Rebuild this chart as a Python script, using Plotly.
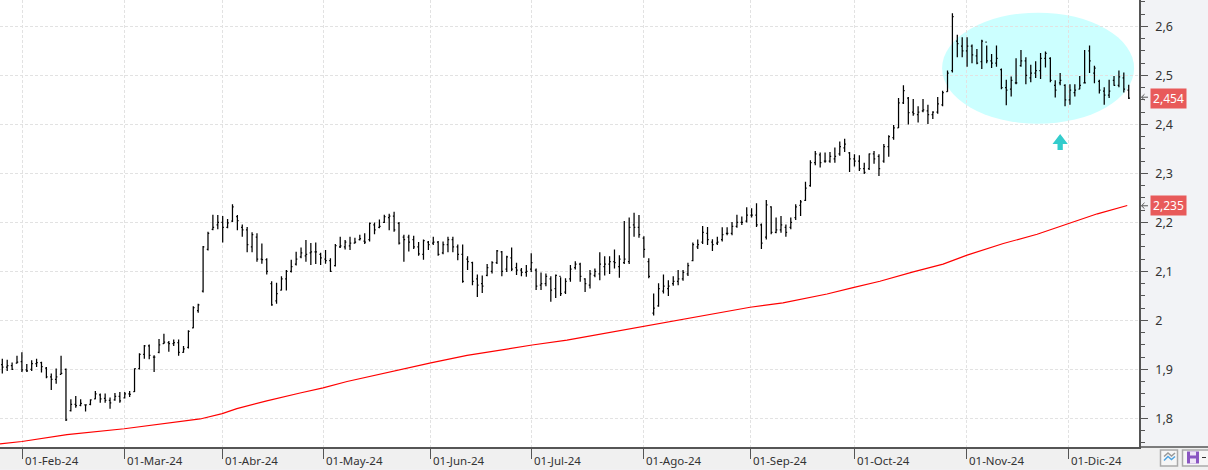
import plotly.graph_objects as go

high = [1.922,1.920,1.914,1.928,1.935,1.911,1.919,1.922,1.916,1.905,1.892,1.902,1.928,1.902,1.839,1.846,1.839,1.829,1.839,1.856,1.851,1.851,1.843,1.852,1.854,1.854,1.856,1.902,1.933,1.950,1.951,1.929,1.962,1.973,1.958,1.961,1.961,1.948,1.980,2.029,2.034,2.152,2.181,2.216,2.215,2.213,2.207,2.237,2.215,2.196,2.191,2.180,2.178,2.157,2.127,2.080,2.077,2.090,2.103,2.124,2.140,
2.149,2.164,2.158,2.159,2.138,2.144,2.127,2.156,2.171,2.164,2.171,2.169,2.175,2.178,2.200,2.200,2.206,2.216,2.218,2.222,2.201,2.175,2.175,2.173,2.160,2.165,2.162,2.171,2.162,2.161,2.171,2.171,2.155,2.155,2.131,2.120,2.094,2.092,2.115,2.121,2.144,2.142,2.132,2.149,2.118,2.107,2.113,2.137,2.106,2.098,2.096,2.090,2.094,2.088,2.086,2.113,2.121,2.118,2.086,2.103,2.106,2.139,
2.131,2.131,2.145,2.133,2.203,2.210,2.220,2.215,2.172,2.127,2.055,2.076,2.094,2.082,2.090,2.103,2.103,2.118,2.159,2.165,2.193,2.191,2.166,2.171,2.190,2.190,2.201,2.216,2.212,2.231,2.229,2.239,2.198,2.246,2.233,2.210,2.213,2.196,2.210,2.237,2.246,2.283,2.327,2.346,2.343,2.343,2.344,2.353,2.365,2.371,2.344,2.339,2.337,2.322,2.341,2.346,2.339,2.360,2.378,2.399,
2.454,2.480,2.456,
2.452,2.437,2.452,2.440,2.427,2.456,2.469,2.510,2.627,2.583,2.578,2.578,2.563,2.554,2.573,2.561,2.544,2.561,2.514,2.491,2.498,2.535,2.552,2.537,2.522,2.529,2.546,2.549,2.537,2.490,2.505,2.482,2.482,2.482,2.499,2.552,2.561,2.520,2.491,2.476,2.491,2.499,2.510,2.506,2.481]

low = [1.892,1.897,1.899,1.912,1.895,1.895,1.897,1.905,1.894,1.882,1.858,1.871,1.890,1.795,1.814,1.822,1.825,1.814,1.827,1.839,1.832,1.832,1.820,1.836,1.832,1.841,1.844,1.854,1.900,1.922,1.921,1.895,1.933,1.952,1.936,1.948,1.928,1.934,1.943,1.984,2.016,2.057,2.143,2.184,2.186,2.159,2.188,2.201,2.184,2.171,2.139,2.139,2.120,2.116,2.094,2.030,2.034,2.061,2.061,2.098,2.112,
2.127,2.120,2.113,2.115,2.113,2.116,2.099,2.110,2.148,2.145,2.144,2.157,2.163,2.156,2.161,2.176,2.188,2.199,2.184,2.181,2.155,2.120,2.141,2.146,2.132,2.124,2.144,2.154,2.132,2.135,2.139,2.139,2.123,2.077,2.103,2.072,2.048,2.056,2.090,2.096,2.115,2.090,2.099,2.101,2.093,2.090,2.089,2.099,2.062,2.062,2.070,2.038,2.046,2.050,2.054,2.079,2.104,2.079,2.058,2.065,2.088,2.082,
2.092,2.095,2.106,2.087,2.115,2.115,2.171,2.169,2.128,2.086,2.010,2.028,2.055,2.050,2.071,2.072,2.081,2.091,2.121,2.146,2.156,2.154,2.142,2.154,2.161,2.174,2.174,2.189,2.195,2.200,2.210,2.191,2.146,2.165,2.176,2.178,2.179,2.171,2.186,2.205,2.213,2.244,2.273,2.317,2.312,2.322,2.322,2.322,2.336,2.344,2.303,2.314,2.305,2.299,2.307,2.320,2.295,2.322,2.334,2.369,
2.393,2.442,2.400,
2.418,2.404,2.425,2.401,2.411,2.422,2.437,2.467,2.506,2.537,2.537,2.518,2.525,2.523,2.513,2.525,2.515,2.518,2.472,2.439,2.457,2.482,2.518,2.482,2.486,2.495,2.493,2.516,2.486,2.455,2.480,2.437,2.440,2.457,2.472,2.484,2.505,2.484,2.463,2.440,2.454,2.479,2.476,2.465,2.452]

close = [1.905,1.908,1.900,1.915,1.899,1.897,1.912,1.914,1.906,1.885,1.880,1.885,1.892,1.797,1.829,1.826,1.831,1.828,1.838,1.850,1.840,1.837,1.832,1.845,1.836,1.850,1.849,1.902,1.931,1.948,1.929,1.925,1.950,1.956,1.953,1.955,1.935,1.942,1.978,2.026,2.032,2.150,2.178,2.190,2.200,2.190,2.199,2.232,2.204,2.185,2.155,2.175,2.125,2.124,2.100,2.032,2.055,2.085,2.100,2.110,2.125,
2.138,2.135,2.140,2.140,2.128,2.122,2.100,2.153,2.152,2.160,2.158,2.160,2.167,2.160,2.198,2.185,2.192,2.212,2.213,2.185,2.158,2.165,2.160,2.150,2.136,2.163,2.155,2.160,2.135,2.155,2.165,2.150,2.135,2.080,2.120,2.080,2.072,2.070,2.108,2.118,2.142,2.100,2.130,2.105,2.103,2.098,2.100,2.118,2.070,2.075,2.090,2.062,2.092,2.055,2.080,2.105,2.115,2.090,2.075,2.095,2.100,2.115,
2.115,2.120,2.118,2.125,2.125,2.190,2.190,2.175,2.145,2.090,2.025,2.065,2.070,2.070,2.080,2.085,2.098,2.112,2.155,2.155,2.180,2.165,2.155,2.160,2.175,2.178,2.192,2.200,2.200,2.215,2.215,2.195,2.158,2.236,2.180,2.185,2.195,2.180,2.200,2.232,2.242,2.270,2.322,2.340,2.322,2.325,2.335,2.335,2.355,2.360,2.330,2.325,2.310,2.302,2.340,2.330,2.310,2.355,2.375,2.393,
2.444,2.469,2.424,
2.422,2.425,2.430,2.420,2.425,2.442,2.465,2.505,2.620,2.565,2.550,2.560,2.542,2.525,2.570,2.530,2.525,2.535,2.475,2.470,2.490,2.485,2.530,2.500,2.505,2.510,2.535,2.545,2.490,2.470,2.490,2.450,2.470,2.470,2.480,2.485,2.530,2.515,2.470,2.460,2.468,2.480,2.497,2.472,2.454]

open_ = [1.910,1.905,1.908,1.913,1.916,1.899,1.900,1.912,1.914,1.903,1.885,1.880,1.890,1.900,1.816,1.829,1.827,1.828,1.829,1.840,1.848,1.841,1.837,1.838,1.845,1.842,1.850,1.855,1.902,1.931,1.948,1.925,1.935,1.953,1.955,1.953,1.955,1.935,1.945,1.985,2.020,2.060,2.145,2.186,2.195,2.200,2.190,2.203,2.212,2.190,2.185,2.150,2.170,2.125,2.124,2.075,2.040,2.062,2.085,2.100,2.115,
2.130,2.132,2.138,2.140,2.135,2.125,2.122,2.112,2.150,2.150,2.152,2.158,2.165,2.162,2.165,2.195,2.190,2.200,2.210,2.213,2.198,2.170,2.170,2.165,2.150,2.135,2.160,2.158,2.160,2.138,2.155,2.165,2.150,2.135,2.125,2.118,2.085,2.075,2.092,2.100,2.118,2.140,2.105,2.128,2.108,2.103,2.098,2.105,2.103,2.072,2.075,2.085,2.065,2.090,2.058,2.085,2.108,2.115,2.085,2.072,2.092,2.095,
2.110,2.115,2.120,2.110,2.118,2.120,2.195,2.190,2.168,2.120,2.015,2.030,2.060,2.065,2.075,2.080,2.085,2.095,2.122,2.150,2.160,2.178,2.160,2.158,2.165,2.178,2.178,2.192,2.200,2.203,2.215,2.215,2.195,2.170,2.232,2.180,2.185,2.190,2.190,2.210,2.235,2.245,2.275,2.322,2.338,2.325,2.325,2.330,2.340,2.352,2.342,2.330,2.325,2.310,2.310,2.340,2.335,2.325,2.355,2.373,
2.393,2.444,2.454,
2.425,2.420,2.428,2.428,2.420,2.425,2.440,2.467,2.510,2.570,2.560,2.550,2.560,2.540,2.528,2.568,2.530,2.525,2.512,2.475,2.472,2.485,2.520,2.530,2.495,2.505,2.510,2.535,2.535,2.480,2.485,2.480,2.450,2.465,2.472,2.485,2.550,2.505,2.488,2.468,2.460,2.490,2.480,2.495,2.470]

assert len(high) == len(low) == len(close) == len(open_), (len(high), len(low), len(close), len(open_))
bar_index = list(range(len(high)))

ma_index = [-0.47,4,13.2,24.9,40.4,44.9,47.9,54,60.8,65.5,70.4,76.5,82.6,87.5,94.9,101.6,108.2,115.3,122.1,130.8,132.3,139.4,149.2,152.7,159.4,168.4,173.7,179.2,186,192.1,197,204.4,211.3,217.6,223.6,229.7]
ma_values = [1.748,1.753,1.767,1.779,1.799,1.810,1.820,1.836,1.852,1.8626,1.8755,1.889,1.9034,1.9136,1.9286,1.9395,1.950,1.960,1.972,1.987,1.990,2.002,2.020,2.027,2.036,2.054,2.067,2.080,2.0993,2.115,2.1333,2.157,2.176,2.198,2.2177,2.2347]

tick_positions = [4.08,24.9,44.9,65.55,87.5,108.1,130.9,152.7,174,196.9,217.7]
tick_labels = ["01-Feb-24","01-Mar-24","01-Abr-24","01-May-24","01-Jun-24","01-Jul-24","01-Ago-24","01-Sep-24","01-Oct-24","01-Nov-24","01-Dic-24"]
y_ticks = [1.8,1.9,2.0,2.1,2.2,2.3,2.4,2.5,2.6]
y_labels = ["1,8","1,9","2","2,1","2,2","2,3","2,4","2,5","2,6"]
last_values = [2.454,2.235]
last_labels = ["2,454","2,235"]

W, H = 1208, 470
PW, PH = 1139, 447.5
FONT = "Noto Sans"

def px(x): return x / PW
def py(y): return (PH - y) / PH

fig = go.Figure()
fig.add_trace(go.Ohlc(x=bar_index, open=open_, high=high, low=low, close=close,
    increasing=dict(line=dict(color="#000000", width=1.25)),
    decreasing=dict(line=dict(color="#000000", width=1.25)),
    tickwidth=0.25, showlegend=False, hoverinfo="skip"))
fig.add_trace(go.Scatter(x=ma_index, y=ma_values, mode="lines",
    line=dict(color="#FF0000", width=1.2), showlegend=False, hoverinfo="skip"))

shapes = [
    dict(type="rect", xref="paper", yref="paper", x0=0, x1=px(W), y0=py(H), y1=py(PH), fillcolor="#F0F0F0", line_width=0, layer="below"),
    dict(type="line", xref="paper", yref="paper", x0=1, x1=px(W), y0=0, y1=0, line=dict(color="#555555", width=1.5)),
    dict(type="circle", xref="x", yref="y", x0=191.9, x1=231.1, y0=2.4014, y1=2.6282, fillcolor="#CCFFFF", line_width=0, layer="below"),
    dict(type="path", xref="x", yref="y", fillcolor="#33CCCC", line_width=0, layer="above",
         path="M216,2.3806 L217.56,2.3602 L216.54,2.3602 L216.54,2.348 L215.46,2.348 L215.46,2.3602 L214.44,2.3602 Z"),
]

def box(x0, y0, x1, y1, **kw):
    d = dict(type="rect", xref="paper", yref="paper", x0=px(x0), x1=px(x1), y0=py(y1), y1=py(y0))
    d.update(kw)
    return d

def poly(points, color, width=1.5):
    p = "M" + " L".join(f"{px(a):.5f},{py(b):.5f}" for a, b in points)
    return dict(type="path", xref="paper", yref="paper", path=p, line=dict(color=color, width=width))

shapes += [
    box(1160.5,450.5,1177.5,466.5, fillcolor="#F6F6F6", line=dict(color="#AAAAAA", width=1.5)),
    poly([(1164,457),(1168,453.5),(1171.5,456.5),(1175,453.5)], "#999999"),
    poly([(1164,461),(1168,457),(1171.5,460),(1175,457)], "#4FA3E0"),
    box(1182.5,450.5,1212,466.5, fillcolor="#F6F6F6", line=dict(color="#AAAAAA", width=1.5)),
    box(1187,452,1199,464, fillcolor="#8A56C2", line_width=0),
    box(1190,452,1196,456, fillcolor="#EFE6F7", line_width=0),
    box(1190,459,1196,464, fillcolor="#EFE6F7", line_width=0),
    box(1202,457.5,1206,458.5, fillcolor="#333333", line_width=0),
]
for yy in (97.3, 206):
    shapes.append(poly([(1148,yy),(1141.5,yy)], "#555555", 1))
    shapes.append(poly([(1144.5,yy-3),(1141.5,yy),(1144.5,yy+3)], "#555555", 1))

annotations = []
for pos, lab in zip(tick_positions, tick_labels):
    annotations.append(dict(x=pos, xref="x", y=py(461), yref="paper", text=lab, showarrow=False,
        xanchor="left", yanchor="middle", xshift=0.5, font=dict(family=FONT, size=11.5, color="#333333")))
for val, lab in zip(last_values, last_labels):
    annotations.append(dict(x=px(1150), xref="paper", y=val, yref="y", text=lab, showarrow=False,
        xanchor="left", yanchor="middle", width=33, height=17, align="center", bgcolor="#E85A5A", borderpad=1,
        font=dict(family=FONT, size=12, color="#FFFFFF")))

fig.update_layout(
    width=W, height=H, autosize=False,
    margin=dict(l=0, r=W-PW, t=0, b=H-PH, pad=0),
    paper_bgcolor="#F2F3F6", plot_bgcolor="#FFFFFF",
    font=dict(family=FONT, size=12, color="#333333"),
    showlegend=False, shapes=shapes, annotations=annotations,
    xaxis=dict(type="linear", range=[-0.47, 232.1], rangeslider=dict(visible=False),
        tickmode="array", tickvals=tick_positions, ticktext=[""]*len(tick_positions),
        ticks="outside", ticklen=10, tickcolor="#555555", tickwidth=1,
        showgrid=True, gridcolor="#E2E2E2", griddash="3px,2px", gridwidth=1,
        showline=True, linecolor="#555555", linewidth=1.5, zeroline=False),
    yaxis=dict(side="right", range=[1.7418, 2.654], tickmode="array", tickvals=y_ticks, ticktext=y_labels,
        ticks="outside", ticklen=7, tickcolor="#555555", tickwidth=1, ticklabelstandoff=5,
        tickfont=dict(family=FONT, size=12.5, color="#333333"),
        showgrid=True, gridcolor="#E2E2E2", griddash="3px,2px", gridwidth=1,
        showline=True, linecolor="#555555", linewidth=1.5, zeroline=False,
        minor=dict(tick0=1.75, dtick=0.025, ticks="outside", ticklen=4, tickcolor="#555555", tickwidth=1, showgrid=False)),
)
fig.write_html("out.html", config=dict(displayModeBar=False), post_script="document.body.style.margin='0';document.documentElement.style.overflow='hidden';")
